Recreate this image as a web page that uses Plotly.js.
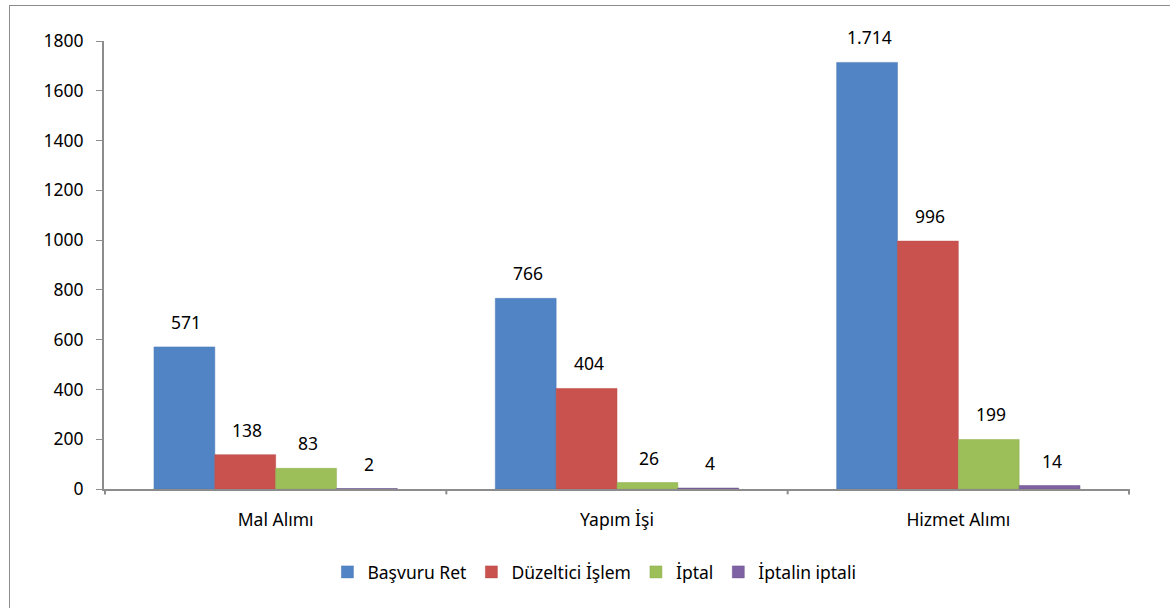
<!DOCTYPE html>
<html>
<head>
<meta charset="utf-8">
<script src="https://cdn.plot.ly/plotly-3.0.1.min.js"></script>
<style>
  html, body { margin: 0; padding: 0; background: #ffffff; }
  #frame { position: absolute; left: 9px; top: 5px; width: 1170px; height: 620px;
           border-left: 1px solid #8c8c8c; border-top: 1px solid #8c8c8c; box-sizing: border-box; }
  #chart { position: absolute; left: 0; top: 0; width: 1170px; height: 608px; }
</style>
</head>
<body>
<div id="frame"></div>
<div id="chart"></div>
<script>
const categories = ["Mal Alımı", "Yapım İşi", "Hizmet Alımı"];
const seriesNames = ["Başvuru Ret", "Düzeltici İşlem", "İptal", "İptalin iptali"];
const basvuruRet = [571, 766, 1714];
const duzelticiIslem = [138, 404, 996];
const iptal = [83, 26, 199];
const iptalinIptali = [2, 4, 14];
const yTicks = [0, 200, 400, 600, 800, 1000, 1200, 1400, 1600, 1800];

const colors = ["#5084c4", "#c9524f", "#9dbf59", "#7f62a3"];
const lineColors = ["#4a7ab5", "#b84a47", "#8eae50", "#6f5590"];
const allSeries = [basvuruRet, duzelticiIslem, iptal, iptalinIptali];

const font = "'Noto Sans', 'Open Sans', sans-serif";
const fsize = 17.5;
const bargap = 0.287;
const barW = (1 - bargap) / 4;

function trFormat(v) {
  return String(v).replace(/\B(?=(\d{3})+(?!\d))/g, ".");
}

const traces = allSeries.map((vals, i) => ({
  type: "bar",
  name: seriesNames[i],
  x: categories,
  y: vals,
  marker: { color: colors[i], line: { color: lineColors[i], width: 0.5 } },
  hoverinfo: "skip"
}));

const annotations = [];
allSeries.forEach((vals, i) => {
  vals.forEach((v, ci) => {
    annotations.push({
      xref: "x", yref: "y",
      x: ci + (i - 1.5) * barW,
      y: v,
      text: trFormat(v),
      showarrow: false,
      yshift: 25,
      xshift: 2,
      font: { family: font, size: fsize, color: "#000000" }
    });
  });
});

const shapes = [0, 1, 2, 3].map(k => ({
  type: "line",
  xref: "x", yref: "paper",
  x0: k - 0.5, x1: k - 0.5,
  y0: 0, y1: -0.012,
  line: { color: "#8c8c8c", width: 2 }
}));

const layout = {
  width: 1170,
  height: 608,
  paper_bgcolor: "rgba(0,0,0,0)",
  plot_bgcolor: "rgba(0,0,0,0)",
  margin: { l: 104, r: 40, t: 41, b: 119, autoexpand: false },
  barmode: "group",
  bargap: bargap,
  bargroupgap: 0,
  showlegend: true,
  legend: {
    orientation: "h",
    x: 0.478, xanchor: "center",
    yref: "container",
    y: 36 / 608, yanchor: "middle",
    font: { family: font, size: fsize, color: "#000000" },
    itemwidth: 30,
    traceorder: "normal"
  },
  xaxis: {
    type: "category",
    showline: true,
    linecolor: "#8c8c8c",
    linewidth: 2,
    ticks: "",
    showgrid: false,
    ticklabelstandoff: 14,
    tickfont: { family: font, size: fsize, color: "#000000" }
  },
  yaxis: {
    range: [0, 1800],
    tickvals: yTicks,
    ticktext: yTicks.map(String),
    showline: true,
    linecolor: "#8c8c8c",
    linewidth: 2,
    ticks: "outside",
    ticklen: 6,
    tickcolor: "#8c8c8c",
    ticklabelstandoff: 9,
    showgrid: false,
    zeroline: false,
    tickfont: { family: font, size: fsize, color: "#000000" }
  },
  annotations: annotations,
  shapes: shapes
};

Plotly.newPlot("chart", traces, layout, { displayModeBar: false, staticPlot: true });
</script>
</body>
</html>
